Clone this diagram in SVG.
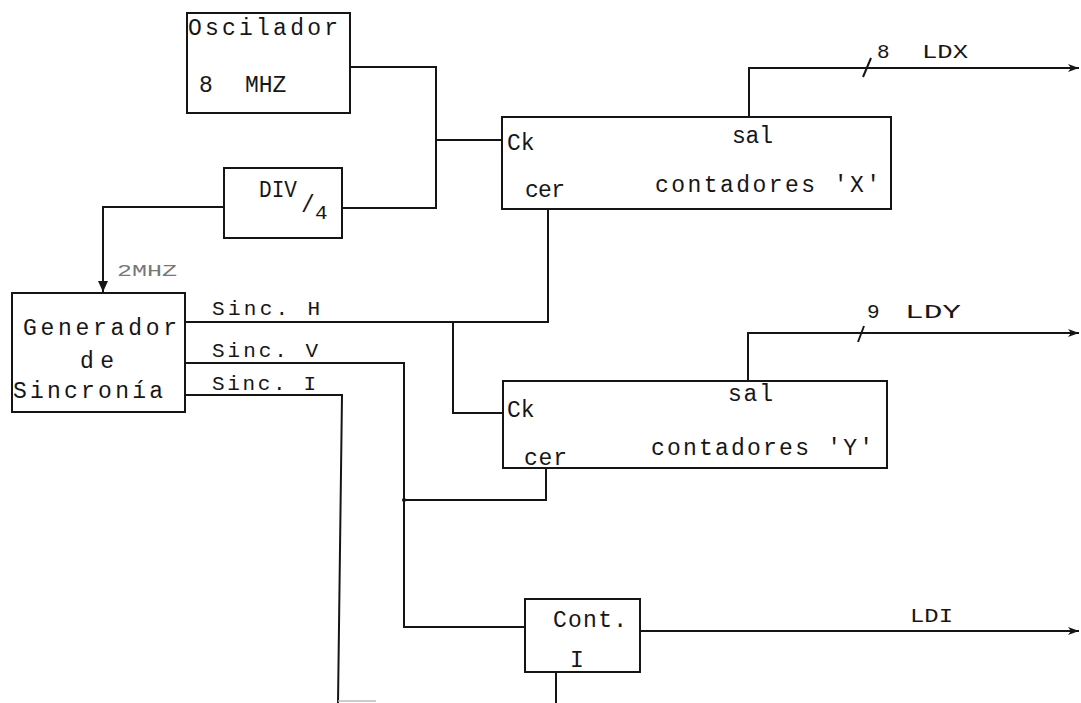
<svg xmlns="http://www.w3.org/2000/svg" width="1081" height="703" viewBox="0 0 1081 703">
<style>
.box{fill:none;stroke:#151515;stroke-width:2}
.w{fill:none;stroke:#151515;stroke-width:2;stroke-linejoin:miter}
.t{font-family:"Liberation Mono","Courier New",monospace;font-size:23px;fill:#161616}
.s{font-family:"Liberation Mono","Courier New",monospace;font-size:21px;fill:#161616}
.f{font-family:"Liberation Mono","Courier New",monospace;font-size:17px;fill:#777}
</style>
<defs>
<marker id="ar" markerWidth="12" markerHeight="10" refX="11" refY="5" orient="auto" markerUnits="userSpaceOnUse">
<path d="M0,1 L11,5 L0,9 L3,5 z" fill="#151515"/>
</marker>
<marker id="ad" markerWidth="10" markerHeight="12" refX="5" refY="11" orient="0" markerUnits="userSpaceOnUse">
<path d="M0,0 L10,0 L5,11 z" fill="#151515"/>
</marker>
</defs>
<rect width="1081" height="703" fill="#fff"/>

<g id="connectors">
<polyline class="w" points="350,67 436,67 436,208 342,208"/>
<line class="w" x1="436" y1="140" x2="502" y2="140"/>
<polyline class="w" points="224,207 103,207 103,292" marker-end="url(#ad)"/>
<polyline class="w" points="749,117 749,68 1079,68" marker-end="url(#ar)"/>
<line class="w" x1="863" y1="77" x2="871" y2="58"/>
<polyline class="w" points="185,322 548,322 548,209"/>
<polyline class="w" points="453,322 453,413 503,413"/>
<polyline class="w" points="748,381 748,333 1079,333" marker-end="url(#ar)"/>
<line class="w" x1="858" y1="342" x2="864" y2="326"/>
<polyline class="w" points="185,363 404,363 404,627 525,627"/>
<polyline class="w" points="546,468 546,500 404,500"/>
<circle cx="404" cy="500" r="2" fill="#151515"/>
<polyline class="w" points="185,395 342,395 338,703"/>
<line class="w" x1="556" y1="672" x2="556" y2="703"/>
<line class="w" x1="640" y1="631" x2="1079" y2="631" marker-end="url(#ar)"/>
<line x1="338" y1="701" x2="376" y2="701" stroke="#bbb" stroke-width="1.5"/>
<text class="f" x="117" y="276" textLength="60" lengthAdjust="spacingAndGlyphs">2MHZ</text>
<text class="s" x="212" y="315" textLength="108" lengthAdjust="spacing">Sinc. H</text>
<text class="s" x="212" y="357" textLength="106" lengthAdjust="spacing">Sinc. V</text>
<text class="s" x="212" y="390" textLength="104" lengthAdjust="spacing">Sinc. I</text>
<text class="s" x="877" y="58">8</text>
<text class="s" x="922" y="58" textLength="46" lengthAdjust="spacingAndGlyphs">LDX</text>
<text class="s" x="867" y="318">9</text>
<text class="s" x="905" y="318" textLength="56" lengthAdjust="spacingAndGlyphs">LDY</text>
<text class="s" x="910" y="622" textLength="43" lengthAdjust="spacingAndGlyphs">LDI</text>
</g>

<g id="osc">
<rect class="box" x="187" y="13" width="163" height="100"/>
<text class="t" x="188" y="35" textLength="150" lengthAdjust="spacing">Oscilador</text>
<text class="t" y="92"><tspan x="199">8</tspan><tspan x="245">MHZ</tspan></text>
</g>

<g id="div4">
<rect class="box" x="224" y="168" width="118" height="70"/>
<text class="t" x="259" y="197" textLength="38" lengthAdjust="spacingAndGlyphs">DIV</text>
<text class="t" x="301" y="212">/</text>
<text class="s" x="315" y="219">4</text>
</g>

<g id="gen">
<rect class="box" x="12" y="293" width="173" height="119"/>
<text class="t" x="23" y="335" textLength="154" lengthAdjust="spacing">Generador</text>
<text class="t" x="80" y="368" textLength="34" lengthAdjust="spacing">de</text>
<text class="t" x="13" y="398" textLength="150" lengthAdjust="spacing">Sincronía</text>
</g>

<g id="cntx">
<rect class="box" x="502" y="117" width="389" height="92"/>
<text class="t" x="507" y="150">Ck</text>
<text class="t" x="732" y="143" textLength="41" lengthAdjust="spacing">sal</text>
<text class="t" x="655" y="192" textLength="225" lengthAdjust="spacing">contadores 'X'</text>
<text class="t" x="525" y="197" textLength="40" lengthAdjust="spacing">cer</text>
</g>

<g id="cnty">
<rect class="box" x="503" y="381" width="384" height="87"/>
<text class="t" x="507" y="417">Ck</text>
<text class="t" x="728" y="401" textLength="45" lengthAdjust="spacing">sal</text>
<text class="t" x="651" y="455" textLength="222" lengthAdjust="spacing">contadores 'Y'</text>
<text class="t" x="524" y="465" textLength="43" lengthAdjust="spacing">cer</text>
</g>

<g id="conti">
<rect class="box" x="525" y="599" width="115" height="73"/>
<text class="t" x="553" y="627" textLength="74" lengthAdjust="spacing">Cont.</text>
<text class="t" x="570" y="667">I</text>
</g>
</svg>
